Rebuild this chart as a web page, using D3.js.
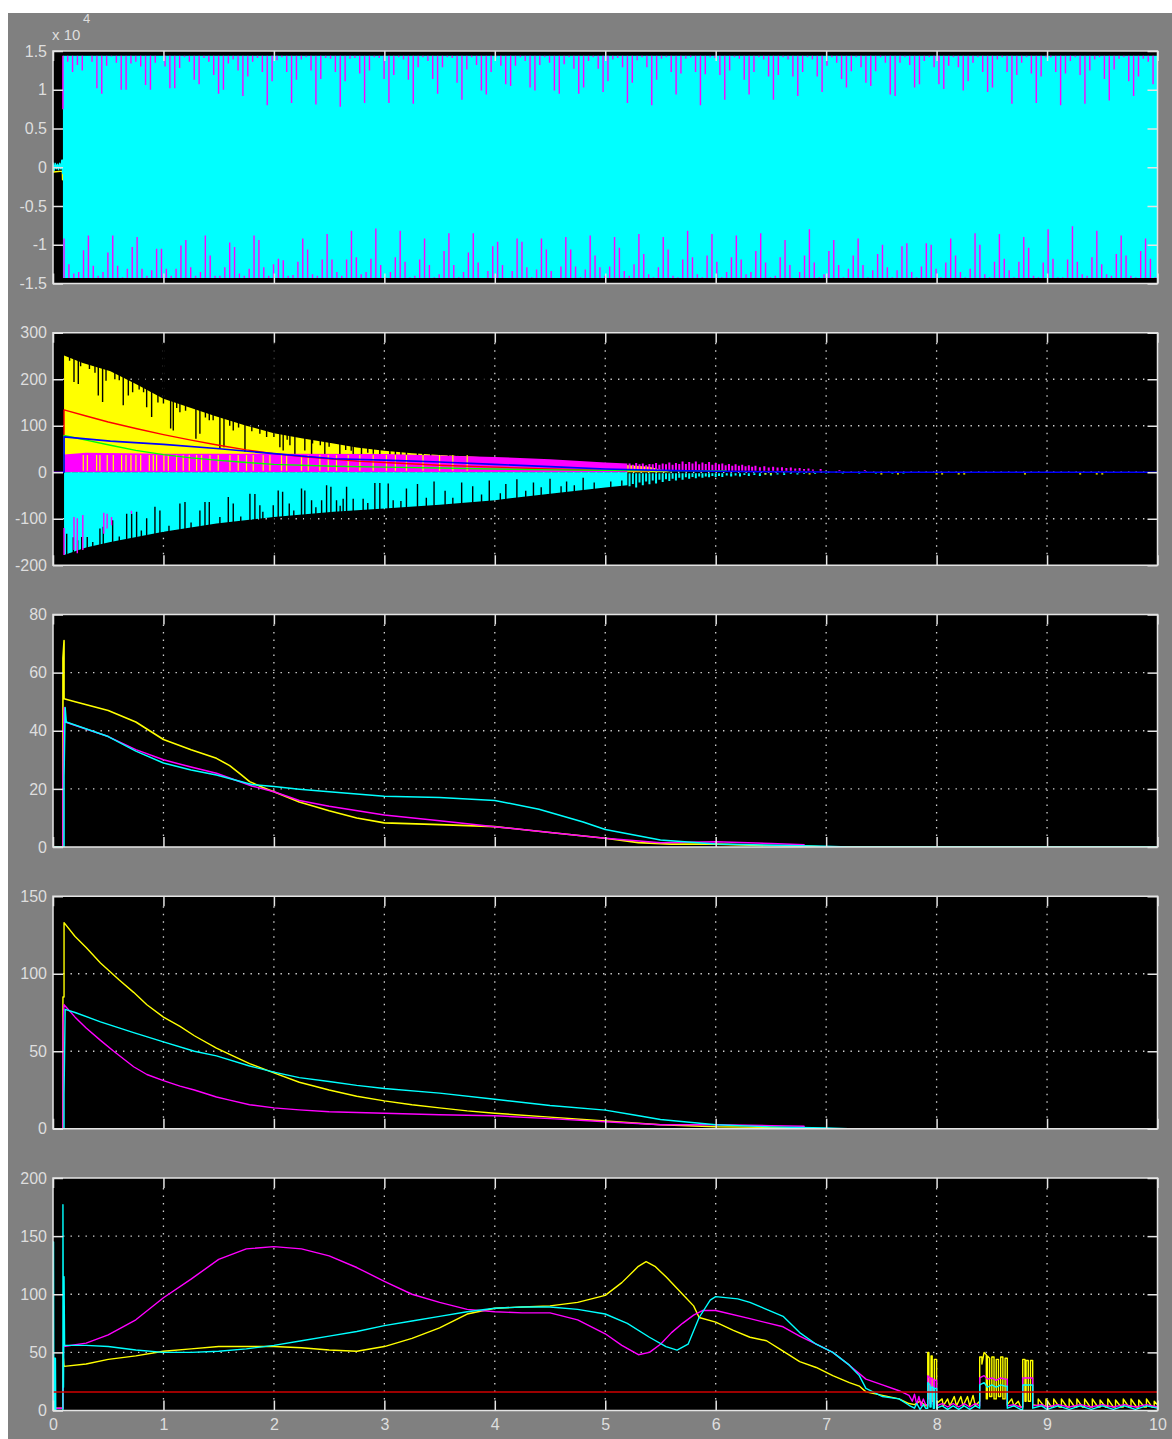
<!DOCTYPE html>
<html>
<head>
<meta charset="utf-8">
<script src="https://cdn.jsdelivr.net/npm/d3@7"></script>
<style>
  html, body { margin: 0; padding: 0; background: #ffffff; }
  svg { display: block; }
</style>
</head>
<body>
<script>
// ---------------------------------------------------------------------------
// Scope data (time in seconds)
// ---------------------------------------------------------------------------
const timeDomain = [0, 10];
const timeTicks = [0, 1, 2, 3, 4, 5, 6, 7, 8, 9, 10];

// Panel 1 : values in units of 10^4
const p1Ticks = [-1.5, -1, -0.5, 0, 0.5, 1, 1.5];
const p1Domain = [-1.5, 1.5];
const p1BandTime = [0.09, 10];
const p1BandUpper = [1.44, 1.44];
const p1BandLower = [-1.43, -1.43];
const p1EarlyCyan = [[0, 0.06], [0.01, -0.04], [0.02, 0.05], [0.03, -0.02], [0.04, 0.04], [0.05, -0.03], [0.06, 0.05], [0.07, -0.02], [0.08, 0.09], [0.088, -0.08], [0.09, 0.1]];
const p1EarlyYellow = [[0.002, 0.0], [0.004, -0.06], [0.085, -0.05], [0.087, -0.16], [0.089, 0.0]];
const p1StartMagenta = [0.09, 0.75, 1.44];
const p1TopSpan = [0.133, 9.96];
const p1TopTips = [
  1.36,1.23,1.32,1.25,1.44, 1.36,1.02,0.95,1.31,1.43, 1.35,1.00,1.00,1.34,1.36,
  1.30,1.06,1.00,1.35,1.44, 1.30,1.02,1.02,1.28,1.42, 1.36,1.13,1.07,1.41,1.36,
  1.19,0.95,1.00,1.34,1.39, 1.25,0.92,1.17,1.36,1.41, 1.23,0.80,1.11,1.38,1.42, 1.23,
  0.83,1.13,1.39,1.42,1.25, 0.81,1.14,1.41,1.40,1.23, 0.78,1.11,1.40,1.41,1.21,
  0.83,1.25,1.42,1.41,1.14, 0.83,1.19,1.42,1.39,1.13, 0.82,1.29,1.42,1.37,1.14,
  0.95,1.29,1.42,1.41,1.09, 0.87,1.26,1.42,1.32,0.99, 0.94,1.23,1.42,1.31,1.07,
  1.05,1.31,1.42,1.37,1.03, 0.99,1.32,1.42,1.35,0.99, 0.95,1.33,1.42,1.27,0.95,
  1.03,1.37,1.42,1.27,0.97, 1.11,1.39,1.41,1.29,0.83, 1.09,1.38,1.42,1.29,0.80,
  1.13,1.40,1.42,1.23,0.94, 1.21,1.40,1.42,1.23,0.80, 1.20,1.42,1.41,1.19,0.87, 1.25,
  1.42,1.40,1.13,0.94,1.23, 1.42,1.39,1.17,0.87,1.19, 1.42,1.39,1.17,0.92,1.23,
  1.42,1.39,1.17,0.97,1.31, 1.42,1.35,1.14,1.03,1.24, 1.42,1.29,1.09,1.05,1.24,
  1.42,1.35,0.94,0.92,1.35, 1.42,1.32,1.03,1.07,1.37, 1.42,1.29,1.07,1.01,1.31,
  1.42,1.29,0.99,1.11,1.35, 1.42,1.23,0.97,1.03,1.39, 1.42,1.23,0.82,1.19,1.35,
  1.42,1.21,0.83,1.17,1.42, 1.42,1.23,0.80,1.21,1.37, 1.42,1.19,0.82,1.25,1.39,
  1.42,1.14,0.86,1.26,1.40, 1.42,1.11,0.92,1.17,1.40, 1.36,1.07
];
const p1BottomSpan = [0.10, 9.98];
const p1BottomTips = [
  -0.92,-1.25,-1.37,-1.35,-1.07, -0.88,-1.27,-1.40,-1.35,-1.10, -0.88,-1.27,-1.42,-1.31,-1.03,
  -0.90,-1.31,-1.40,-1.33,-1.05, -1.05,-1.31,-1.40,-1.31,-1.01, -0.94,-1.29,-1.40,-1.35,-0.88,
  -1.14,-1.40,-1.40,-1.29,-0.97, -1.03,-1.37,-1.40,-1.31,-0.88, -0.94,-1.29,-1.40,-1.25,-1.18,
  -1.20,-1.40,
  -1.39,-1.22,-0.92,-1.06,-1.38, -1.40,-1.19,-0.86,-1.19,-1.35, -1.40,-1.19,-0.82,-1.16,-1.38,
  -1.35,-1.18,-0.79,-1.26,-1.42, -1.35,-1.16,-0.82,-1.22,-1.42, -1.40,-1.19,-0.92,-1.26,-1.42,
  -1.38,-1.08,-0.85,-1.26,-1.42, -1.35,-1.10,-0.85,-1.23,-1.43, -1.34,-1.02,-0.96,-1.26,-1.43,
  -1.34,-0.92,-0.96,-1.29,-1.42, -1.32,-0.92,-1.06,-1.34,-1.43, -1.28,-0.90,-1.06,-1.28,-1.42,
  -1.32,-0.88,-1.14,-1.29,-1.40, -1.28,-0.90,-1.04,-1.34,-1.40, -1.25,-0.86,-1.12,-1.38,-1.42,
  -1.29,-0.90,-1.06,-1.40,-1.42, -1.19,-0.82,-1.16,-1.38,-1.42, -1.14,-0.86,-1.22,-1.42,-1.35,
  -1.16,-0.88,-1.19,-1.38,-1.35, -1.08,-0.85,-1.23,-1.42,-1.40, -1.16,-0.94,-1.26,-1.43,-1.35,
  -1.14,-0.80,-1.23,-1.42,-1.38, -1.08,-0.94,-1.26,-1.42,-1.31, -1.14,-0.92,-1.26,-1.42,-1.33,
  -1.12,-1.00,-1.29,-1.42,-1.33, -1.02,-0.98,-1.35,-1.42,-1.28, -0.98,-1.00,-1.31,-1.42,-1.23,
  -0.92,-1.14,-1.35,-1.42,-1.31, -0.85,-1.00,-1.38,-1.42,-1.22, -0.86,-1.18,-1.33,-1.42,-1.22,
  -0.90,-1.04,-1.40,-1.42,-1.23, -0.80,-1.18,-1.42,-1.42,-1.19, -0.76,-1.22,-1.38,-1.40,-1.16,
  -0.82,-1.25,-1.38,-1.40,-1.12, -0.88,-1.14,-1.40,-1.42,-1.08, -0.92,-1.18,-1.42
];

// Panel 2
const p2Ticks = [-200, -100, 0, 100, 200, 300];
const p2Domain = [-200, 300];
const p2YellowEnv = [[0.1,0],[0.1,251],[0.27,235],[0.52,217],[0.75,190],[1,158],[1.25,138],[1.48,120],[1.75,100],[2,84],[2.25,73],[2.54,62],[2.75,53],[3,46],[3.25,41],[3.5,37],[4,31],[4.5,25],[5,19],[5.4,12],[5.6,0]];
const p2YellowGaps = [
  [0.190,194],[0.229,190],[0.410,165],[0.449,151],[0.480,197],[0.636,144],[0.682,165],[0.721,172],[0.848,140],[0.893,119],[1.065,94],[1.089,90],[1.149,129],[1.294,72],[1.330,83],[1.415,112],[1.511,51],[1.548,54],[1.632,90],[1.738,44],[1.873,83],[1.934,76],[2.054,54],[2.084,47],[2.145,58],[2.190,29],[2.280,47],[2.341,33],[2.461,33],[2.597,29],[2.718,26],[2.793,26],[2.959,22],[3.1,20],[3.2,25],[3.35,18],[3.5,22],[3.65,15],
  [0.15,240],[0.25,228],[0.33,222],[0.38,214],[0.56,200],[0.60,198],[0.78,178],[0.82,172],[0.95,150],[1.0,148],[1.12,138],[1.2,132],[1.38,118],[1.45,112],[1.6,100],[1.68,96],[1.8,88],[2.0,76],[2.12,70],[2.35,62],[2.42,58],[2.5,55],[2.65,48],[2.7,46],[2.85,42],[2.9,40],[3.05,38],[3.15,36],[3.3,33],[3.42,32],[3.58,30],[3.75,28],[3.9,26],[4.1,24]
];
const p2MagentaEnv = [[0.1,0],[0.1,38],[0.3,42],[1,40],[2,40],[3,39],[3.5,36],[4,33],[4.5,28],[5,21],[5.2,19],[5.2,0]];
const p2MagentaTail = [[5.22,19],[5.25,16],[5.28,20],[5.31,17],[5.34,19],[5.37,15],[5.40,18],[5.43,17],[5.46,20],[5.49,16],[5.52,19],[5.55,17],[5.58,21],[5.61,16],[5.64,20],[5.67,18],[5.70,23],[5.73,18],[5.76,22],[5.79,19],[5.82,23],[5.85,17],[5.88,21],[5.91,18],[5.94,22],[5.97,16],[6.00,20],[6.03,17],[6.06,19],[6.09,15],[6.12,18],[6.15,14],[6.18,17],[6.21,14],[6.24,16],[6.27,13],[6.30,15],[6.33,12],[6.36,14],[6.40,11],[6.44,13],[6.48,10],[6.52,12],[6.56,10],[6.60,11],[6.64,9],[6.68,10],[6.72,8],[6.76,9],[6.80,7],[6.84,8],[6.88,6],[6.95,7],[7.12,5],[7.35,5]];
const p2MagentaDown = [[0.1,-178,-120],[0.19,-167,-96],[0.22,-174,-99],[0.27,-167,-92],[0.46,-132,-87],[0.49,-121,-89],[0.53,-114,-96],[0.71,-89,-83]];
const p2YellowStreaks = [0.274,0.311,0.395,0.425,0.491,0.546,0.621,0.661,0.706,0.751,0.794,0.872,0.908,0.938,1.004,1.044,1.119,1.179,1.234,1.300,1.345,1.421,1.496,1.602,1.677,1.752,1.813,1.903,1.964,2.069,2.115,2.250,2.311,2.416,2.492,2.567,2.673,2.778,2.899,3.019,3.1,3.2,3.35,3.5,3.62,3.75];
const p2CyanEnv = [[0.1,0],[0.1,-178],[0.3,-162],[0.52,-150],[1,-128],[1.48,-110],[2,-96],[2.54,-85],[3,-78],[3.5,-70],[4,-60],[4.5,-46],[5,-33],[5.2,-28],[5.2,0]];
const p2CyanGaps = [
  [0.124,-132],[0.184,-140],[0.223,-146],[0.26,-139],[0.31,-139],[0.425,-121],[0.455,-117],[0.54,-103],[0.667,-89],[0.712,-89],[0.757,-85],[0.848,-99],[0.923,-74],[0.968,-82],[1.149,-67],[1.195,-64],[1.33,-82],[1.376,-64],[1.415,-64],[1.511,-96],[1.587,-53],[1.632,-67],[1.783,-46],[1.828,-47],[1.873,-71],[1.994,-71],[2.039,-39],[2.079,-42],[2.139,-67],[2.25,-35],[2.28,-39],[2.341,-60],[2.432,-60],[2.477,-28],[2.516,-31],[2.567,-60],[2.627,-57],[2.658,-31],[2.718,-57],[2.808,-57],[2.914,-23],[2.959,-23],[3.035,-24],[3.08,-60],[3.2,-35],[3.3,-25],[3.45,-20],[3.55,-40],[3.7,-22],[3.8,-30],[3.95,-18],[4.1,-25],[4.2,-15],[4.35,-22],[4.5,-14],[4.65,-20],[4.8,-12],
  [0.36,-150],[0.6,-138],[0.8,-125],[1.05,-115],[1.25,-108],[1.7,-95],[1.9,-85],[2.18,-82],[2.38,-75],[2.6,-72],[2.85,-66],[3.15,-62],[3.38,-55],[3.62,-55],[3.88,-48],[4.05,-45],[4.28,-40],[4.42,-32],[4.6,-30],[4.72,-28],[4.9,-22],[5.05,-20],[5.15,-18]
];
const p2CyanTail = [[5.22,-30],[5.25,-25],[5.28,-33],[5.31,-22],[5.34,-28],[5.37,-20],[5.40,-26],[5.43,-18],[5.46,-24],[5.49,-16],[5.52,-21],[5.55,-15],[5.58,-19],[5.61,-14],[5.64,-18],[5.67,-12],[5.70,-16],[5.73,-11],[5.76,-14],[5.79,-10],[5.82,-13],[5.85,-9],[5.88,-12],[5.91,-9],[5.94,-11],[5.97,-8],[6.00,-10],[6.03,-8],[6.06,-10],[6.10,-7],[6.14,-9],[6.18,-7],[6.22,-9],[6.26,-6],[6.30,-8],[6.35,-6],[6.40,-8],[6.45,-5],[6.50,-7],[6.56,-5],[6.62,-6],[6.68,-4],[6.74,-5],[6.80,-4],[6.90,-4],[7.0,-3],[7.15,-3],[7.3,-3],[7.45,-3],[7.6,-3],[7.7,-3]];
const p2YellowDots = [6.45, 6.5, 6.85, 7.5, 7.65, 8.0, 8.05, 8.2, 8.25, 8.8, 9.3, 9.45, 9.5];
const p2Red = [[0,0],[0.1,0],[0.1,80],[0.1,134],[0.3,121],[0.5,108],[0.75,94],[1,81],[1.25,69],[1.5,58],[1.75,48],[2,40],[2.25,34],[2.5,29],[2.75,24],[3,21],[3.5,15],[4,11],[4.5,7],[5,4],[5.4,3]];
const p2Green = [[0.1,0],[0.1,79],[0.3,69],[0.52,58],[0.75,47],[1,38],[1.25,31],[1.48,26],[1.75,21],[2,17],[2.54,13],[3,11],[3.5,9],[4,7],[4.5,5],[5,4],[6,3],[6.1,3]];
const p2Blue = [[0,0],[0.1,0],[0.1,76],[0.52,67],[1,60],[1.48,51],[2,40],[2.54,29],[3,26],[3.5,22],[4,17],[4.5,12],[5,7],[5.5,4],[6,2],[6.5,1],[7,0.5],[7.2,0],[10,0]];

// Panel 3
const p3Ticks = [0, 20, 40, 60, 80];
const p3Domain = [0, 80];
const p3Yellow = [[0,0],[0.09,0],[0.09,65],[0.1,71],[0.1,51],[0.2,50],[0.5,47],[0.75,43],[1,37],[1.25,33.5],[1.48,30.5],[1.6,28],[1.7,25],[1.78,22.5],[1.9,20.5],[2,19],[2.23,15.5],[2.5,12.5],[2.75,10],[3,8.3],[3.5,7.7],[4,7],[4.5,5],[5,3],[5.3,1.5],[5.6,1],[6,1],[6.4,0.5],[6.8,0.3],[7,0],[10,0]];
const p3Magenta = [[0.09,0],[0.09,24],[0.1,48],[0.11,43],[0.5,38],[0.75,33.5],[1,30],[1.25,27.5],[1.48,25.4],[1.8,21],[2,19],[2.23,16],[2.5,14],[3,11],[3.5,9],[4,7],[4.5,5],[5,3],[5.5,1.5],[6,1.8],[6.5,1.2],[6.8,0.8],[6.8,0]];
const p3Cyan = [[0,0],[0.1,0],[0.1,24],[0.11,48],[0.12,43],[0.5,38],[0.75,33],[1,28.9],[1.25,26.5],[1.48,24.8],[1.8,21.5],[2,20.8],[2.23,19.9],[2.5,19],[3,17.5],[3.5,17],[4,16],[4.4,13],[4.8,8.6],[5,6],[5.5,2.4],[6,1],[7,0.3],[7.2,0],[10,0]];

// Panel 4
const p4Ticks = [0, 50, 100, 150];
const p4Domain = [0, 150];
const p4Yellow = [[0,0],[0.09,0],[0.09,85],[0.1,85],[0.1,133],[0.2,124],[0.3,117],[0.43,107],[0.6,96],[0.73,88],[0.85,80],[1,72],[1.15,66],[1.28,60],[1.48,52],[1.6,48],[1.78,42],[2,36],[2.23,30],[2.5,25],[2.75,21],[3,18],[3.25,15.5],[3.5,13.5],[3.75,11.5],[4,10],[4.5,7.5],[5,5],[5.5,2.6],[6,1.3],[6.5,0.8],[6.8,0.5],[6.8,0],[10,0]];
const p4Magenta = [[0.09,0],[0.09,67],[0.1,80],[0.2,72],[0.3,65],[0.43,57],[0.55,50],[0.73,40],[0.85,35],[1,31],[1.15,27.5],[1.28,25],[1.48,20.5],[1.6,18.5],[1.78,15.5],[2,13.5],[2.23,12.2],[2.5,11],[3,10],[3.5,9],[4,8.4],[4.5,6.5],[5,4.5],[5.5,2.6],[6,2.6],[6.5,2],[6.8,1.6],[6.8,0]];
const p4Cyan = [[0,0],[0.1,0],[0.1,22],[0.11,77],[0.2,75],[0.43,69],[0.73,62],[1,56],[1.28,50],[1.48,47],[1.78,40.5],[2,36.5],[2.23,33],[2.5,30.5],[2.75,28],[3,26],[3.5,23],[4,19],[4.5,15],[5,12],[5.25,9],[5.5,6],[6,2.6],[6.5,1.2],[7,0.5],[7.2,0],[10,0]];

// Panel 5
const p5Ticks = [0, 50, 100, 150, 200];
const p5Domain = [0, 200];
const p5Limit = 16;
const p5Yellow = [
  [0,2],[0.09,2],[0.09,50],[0.1,38],[0.3,40],[0.5,44],[0.75,47],[1,51],[1.25,53],[1.5,55],[1.75,55],[2,55],[2.25,54],[2.5,52],[2.75,51],[3,55],[3.25,62],[3.5,71],[3.75,83],[4,88],[4.25,89],[4.5,90],[4.75,93],[5,99],[5.15,110],[5.3,124],[5.37,128],[5.45,124],[5.55,115],[5.7,100],[5.8,90],[5.85,80],[6,76],[6.16,69],[6.31,63],[6.46,60],[6.61,51],[6.76,42],[6.91,37],[7.06,30],[7.21,24],[7.3,21],[7.36,16],[7.51,13],[7.66,10],[7.75,6],
  [7.8,5],[7.85,8],[7.9,4],[7.92,4],[7.92,50],[7.93,50],[7.93,10],[7.95,10],[7.95,47],[7.96,47],[7.96,8],[7.98,8],[7.98,44],[8.0,44],[8.0,6],[8.05,10],[8.06,4],[8.1,10],[8.12,4],[8.16,12],[8.18,4],[8.22,12],[8.24,4],[8.28,12],[8.3,4],[8.33,13],[8.35,4],[8.39,8],[8.39,46],[8.41,46],[8.41,40],[8.43,50],[8.45,48],[8.45,10],[8.46,10],[8.46,47],[8.48,45],[8.48,12],[8.5,12],[8.5,46],[8.52,46],[8.52,10],[8.54,10],[8.54,44],[8.56,44],[8.56,12],[8.58,12],[8.58,46],[8.6,46],[8.6,10],[8.62,10],[8.62,45],[8.64,45],[8.64,5],[8.68,10],[8.7,4],[8.74,8],[8.76,3],[8.78,3],[8.78,44],[8.8,44],[8.8,8],[8.81,8],[8.81,43],[8.83,43],[8.83,8],[8.85,8],[8.85,43],[8.87,43],[8.87,5],[8.92,4],[8.92,10],[8.97,4],[8.99,4],[8.99,10],[9.04,3],[9.06,3],[9.06,10],[9.11,3],[9.13,3],[9.13,10],[9.18,3],[9.2,3],[9.2,10],[9.25,3],[9.27,3],[9.27,10],[9.32,3],[9.34,3],[9.34,10],[9.39,3],[9.41,3],[9.41,10],[9.46,3],[9.48,3],[9.48,9],[9.53,3],[9.55,3],[9.55,10],[9.6,3],[9.62,3],[9.62,9],[9.67,3],[9.69,3],[9.69,10],[9.74,3],[9.76,3],[9.76,10],[9.81,3],[9.83,3],[9.83,9],[9.88,3],[9.9,3],[9.9,10],[9.95,3],[9.97,3],[9.97,8],[10,5]
];
const p5Magenta = [
  [0,47],[0.005,27],[0.01,2],[0.09,2],[0.095,55],[0.3,58],[0.5,65],[0.75,78],[1,97],[1.25,113],[1.5,130],[1.75,139],[2,141],[2.25,139],[2.5,133],[2.75,123],[3,111],[3.25,100],[3.5,93],[3.75,87],[4,85],[4.25,84],[4.5,84],[4.75,78],[5,66],[5.15,56],[5.3,48],[5.4,50],[5.5,57],[5.6,67],[5.7,75],[5.8,82],[5.88,86],[6,86],[6.31,79],[6.61,72],[6.76,64],[6.91,57],[7.06,50],[7.21,39],[7.36,27],[7.51,22],[7.66,17],[7.75,13],
  [7.78,8],[7.8,14],[7.82,5],[7.84,12],[7.86,4],[7.88,10],[7.9,5],[7.92,5],[7.92,30],[7.94,28],[7.94,6],[7.95,6],[7.95,28],[7.97,27],[7.97,5],[7.98,5],[7.98,26],[8.0,26],[8.0,4],[8.05,6],[8.1,3],[8.15,6],[8.2,3],[8.25,6],[8.3,3],[8.35,6],[8.39,4],[8.39,28],[8.43,30],[8.46,27],[8.5,28],[8.54,26],[8.58,28],[8.62,27],[8.64,27],[8.64,4],[8.7,5],[8.76,3],[8.78,3],[8.78,28],[8.87,28],[8.87,4],[8.95,5],[9.0,3],[9.1,5],[9.2,3],[9.3,5],[9.4,3],[9.5,5],[9.6,3],[9.7,5],[9.8,3],[9.9,5],[10,3]
];
const p5Cyan = [
  [0,145],[0.005,145],[0.008,0],[0.012,0],[0.015,45],[0.022,45],[0.025,0],[0.09,0],[0.09,177],[0.095,20],[0.1,115],[0.105,56],[0.3,56],[0.5,55],[0.75,52],[1,50],[1.25,50],[1.5,51],[1.75,53],[2,56],[2.25,60],[2.5,64],[2.75,68],[3,73],[3.25,77],[3.5,81],[3.75,85],[4,88],[4.25,89],[4.5,89],[4.75,87],[5,83],[5.2,75],[5.4,63],[5.55,55],[5.65,52],[5.75,57],[5.85,80],[5.95,95],[6.0,98],[6.2,96],[6.31,93],[6.46,87],[6.61,81],[6.76,67],[6.91,57],[7.06,50],[7.21,39],[7.3,30],[7.36,19],[7.51,12],[7.66,10],[7.75,4.5],
  [7.8,2],[7.82,6],[7.85,1],[7.88,5],[7.9,2],[7.92,2],[7.92,24],[7.94,22],[7.94,3],[7.95,3],[7.95,20],[7.97,20],[7.97,2],[7.98,2],[7.98,19],[8.0,19],[8.0,2],[8.05,4],[8.1,1],[8.15,4],[8.2,1],[8.25,4],[8.3,1],[8.35,4],[8.39,2],[8.39,22],[8.43,24],[8.46,20],[8.5,22],[8.54,20],[8.58,22],[8.62,21],[8.64,21],[8.64,2],[8.7,4],[8.76,1],[8.78,1],[8.78,22],[8.87,22],[8.87,2],[8.95,4],[9.0,1],[9.1,4],[9.2,1],[9.3,4],[9.4,1],[9.5,4],[9.6,1],[9.7,4],[9.8,1],[9.9,4],[10,2]
];

// ---------------------------------------------------------------------------
// Layout
// ---------------------------------------------------------------------------
const W = 1172, H = 1439;
const PLOT_LEFT = 53, PLOT_RIGHT = 1157.5;
const PANEL_TOP0 = 51, PANEL_STEP = 281.75, PANEL_H = 232.5;
const FONT = "'Liberation Sans', Arial, sans-serif";
const LABEL_COLOR = "#dedede";
const FRAME_COLOR = "#e4e4e4";
const GRID_COLOR = "#cfcfcf";
const COL = { yellow: "#ffff00", magenta: "#ff00ff", cyan: "#00ffff", red: "#ff0000", green: "#00ff00", blue: "#0000ff", limit: "#d00000", gap: "#000000" };

const svg = d3.select("body").append("svg").attr("width", W).attr("height", H);
svg.append("rect").attr("width", W).attr("height", H).attr("fill", "#ffffff");
svg.append("rect").attr("x", 8).attr("y", 13).attr("width", W - 8).attr("height", H - 13).attr("fill", "#808080");

const x = d3.scaleLinear().domain(timeDomain).range([PLOT_LEFT, PLOT_RIGHT]);
const numFmt = d => String(d);

function makePanel(i, domain, ticks, showX) {
  const top = PANEL_TOP0 + i * PANEL_STEP;
  const bottom = top + PANEL_H;
  const y = d3.scaleLinear().domain(domain).range([bottom, top]);
  const g = svg.append("g");
  g.append("rect").attr("x", PLOT_LEFT).attr("y", top)
    .attr("width", PLOT_RIGHT - PLOT_LEFT).attr("height", PANEL_H).attr("fill", "#000");
  const clipId = "plotclip" + i;
  svg.append("clipPath").attr("id", clipId).append("rect")
    .attr("x", PLOT_LEFT).attr("y", top).attr("width", PLOT_RIGHT - PLOT_LEFT).attr("height", PANEL_H);
  const grid = g.append("g").attr("stroke", GRID_COLOR).attr("stroke-width", 1.3)
    .attr("stroke-dasharray", "1.4,6.1");
  grid.selectAll("line.v").data(timeTicks.slice(1, -1)).join("line")
    .attr("x1", d => x(d)).attr("x2", d => x(d)).attr("y1", top + 10).attr("y2", bottom - 10);
  grid.selectAll("line.h").data(ticks.slice(1, -1)).join("line")
    .attr("y1", d => y(d)).attr("y2", d => y(d)).attr("x1", PLOT_LEFT + 10).attr("x2", PLOT_RIGHT - 10);
  const plot = g.append("g").attr("clip-path", `url(#${clipId})`);
  return { i, g, y, plot, top, bottom, ticks, showX };
}

function finishPanel(p) {
  const style = sel => {
    sel.select(".domain").remove();
    sel.attr("color", FRAME_COLOR).attr("font-family", FONT).attr("font-size", 16);
    sel.selectAll("line").attr("stroke-width", 1.5);
    sel.selectAll("text").attr("fill", LABEL_COLOR);
  };
  p.g.append("g").attr("transform", `translate(${PLOT_LEFT},0)`)
    .call(d3.axisLeft(p.y).tickValues(p.ticks).tickFormat(numFmt).tickSizeInner(-10).tickSizeOuter(0).tickPadding(6))
    .call(style);
  p.g.append("g").attr("transform", `translate(${PLOT_RIGHT},0)`)
    .call(d3.axisRight(p.y).tickValues(p.ticks).tickFormat("").tickSizeInner(-10).tickSizeOuter(0))
    .call(style);
  p.g.append("g").attr("transform", `translate(0,${p.top})`)
    .call(d3.axisTop(x).tickValues(timeTicks).tickFormat("").tickSizeInner(-10).tickSizeOuter(0))
    .call(style);
  p.g.append("g").attr("transform", `translate(0,${p.bottom})`)
    .call(d3.axisBottom(x).tickValues(timeTicks).tickFormat(p.showX ? numFmt : "").tickSizeInner(-10).tickSizeOuter(0).tickPadding(8))
    .call(style);
  p.g.append("rect").attr("x", PLOT_LEFT).attr("y", p.top)
    .attr("width", PLOT_RIGHT - PLOT_LEFT).attr("height", PANEL_H)
    .attr("fill", "none").attr("stroke", FRAME_COLOR).attr("stroke-width", 1.5);
}

function line(p, pts, color, w = 1.3) {
  p.plot.append("path").datum(pts)
    .attr("d", d3.line().x(d => x(d[0])).y(d => p.y(d[1])))
    .attr("fill", "none").attr("stroke", color).attr("stroke-width", w)
    .attr("stroke-linejoin", "round");
}
function area(p, pts, color) {
  p.plot.append("path").datum(pts)
    .attr("d", d3.area().x(d => x(d[0])).y0(p.y(0)).y1(d => p.y(d[1])))
    .attr("fill", color);
}
function segs(p, rows, color, w, tAcc, aAcc, bAcc) {
  p.plot.append("g").attr("stroke", color).attr("stroke-width", w)
    .selectAll("line").data(rows).join("line")
    .attr("x1", d => x(tAcc(d))).attr("x2", d => x(tAcc(d)))
    .attr("y1", d => p.y(aAcc(d))).attr("y2", d => p.y(bAcc(d)));
}
function spread(span, vals) {
  const n = vals.length;
  return vals.map((v, k) => [span[0] + (span[1] - span[0]) * k / (n - 1), v]);
}

// ---------------------------------------------------------------------------
// Panel 1
// ---------------------------------------------------------------------------
const P1 = makePanel(0, p1Domain, p1Ticks, false);
line(P1, p1EarlyYellow, COL.yellow, 1.5);
line(P1, p1EarlyCyan, COL.cyan, 1.5);
P1.plot.append("path").datum(d3.range(p1BandTime.length))
  .attr("d", d3.area().x(k => x(p1BandTime[k])).y0(k => P1.y(p1BandLower[k])).y1(k => P1.y(p1BandUpper[k])))
  .attr("fill", COL.cyan);
segs(P1, [p1StartMagenta], COL.magenta, 1.5, d => d[0], d => d[1], d => d[2]);
segs(P1, spread(p1TopSpan, p1TopTips), COL.magenta, 1.4, d => d[0], () => p1BandUpper[0], d => d[1]);
segs(P1, spread(p1BottomSpan, p1BottomTips), COL.magenta, 1.4, d => d[0], () => p1BandLower[0], d => d[1]);
finishPanel(P1);
P1.g.append("text").attr("x", 52).attr("y", 40).attr("fill", LABEL_COLOR)
  .attr("font-family", FONT).attr("font-size", 15).text("x 10");
P1.g.append("text").attr("x", 83).attr("y", 23).attr("fill", LABEL_COLOR)
  .attr("font-family", FONT).attr("font-size", 13).text("4");

// ---------------------------------------------------------------------------
// Panel 2
// ---------------------------------------------------------------------------
const P2 = makePanel(1, p2Domain, p2Ticks, false);
area(P2, p2YellowEnv, COL.yellow);
segs(P2, p2YellowGaps, COL.gap, 1.4, d => d[0], () => 300, d => d[1]);
area(P2, p2MagentaEnv, COL.magenta);
segs(P2, p2MagentaTail, COL.magenta, 2, d => d[0], () => 3, d => d[1]);
segs(P2, p2YellowStreaks, COL.yellow, 1.2, d => d, () => 3, () => 37);
area(P2, p2CyanEnv, COL.cyan);
segs(P2, p2CyanGaps, COL.gap, 1.4, d => d[0], () => -200, d => d[1]);
segs(P2, p2MagentaDown, COL.magenta, 1.4, d => d[0], d => d[1], d => d[2]);
segs(P2, p2CyanTail, COL.cyan, 2, d => d[0], () => -2, d => d[1]);
segs(P2, p2YellowDots, COL.yellow, 2, d => d, () => -2, () => -5);
line(P2, p2Red, COL.red, 1.4);
line(P2, p2Green, COL.green, 1.4);
line(P2, p2Blue, COL.blue, 1.6);
finishPanel(P2);

// ---------------------------------------------------------------------------
// Panel 3
// ---------------------------------------------------------------------------
const P3 = makePanel(2, p3Domain, p3Ticks, false);
line(P3, p3Yellow, COL.yellow, 1.6);
line(P3, p3Magenta, COL.magenta, 1.5);
line(P3, p3Cyan, COL.cyan, 1.5);
finishPanel(P3);

// ---------------------------------------------------------------------------
// Panel 4
// ---------------------------------------------------------------------------
const P4 = makePanel(3, p4Domain, p4Ticks, false);
line(P4, p4Yellow, COL.yellow, 1.4);
line(P4, p4Magenta, COL.magenta, 1.4);
line(P4, p4Cyan, COL.cyan, 1.4);
finishPanel(P4);

// ---------------------------------------------------------------------------
// Panel 5
// ---------------------------------------------------------------------------
const P5 = makePanel(4, p5Domain, p5Ticks, true);
line(P5, p5Yellow, COL.yellow, 1.4);
line(P5, p5Magenta, COL.magenta, 1.4);
line(P5, p5Cyan, COL.cyan, 1.4);
line(P5, [[timeDomain[0], p5Limit], [timeDomain[1], p5Limit]], COL.limit, 1.5);
finishPanel(P5);
</script>
</body>
</html>
